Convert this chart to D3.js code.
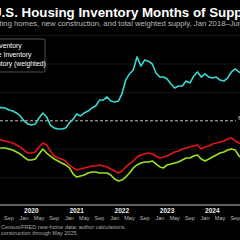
<!DOCTYPE html>
<html>
<head>
<meta charset="utf-8">
<script src="https://cdn.jsdelivr.net/npm/d3@7"></script>
<style>
  body { margin: 0; background: #000; }
  svg { display: block; font-family: "Liberation Sans", Arial, sans-serif; }
</style>
</head>
<body>
<div id="chart"></div>
<script>
// Months of supply, Jan 2018 - Jun 2025
const startMonth = new Date(2018, 0, 1);
const endMonth = new Date(2025, 5, 1);

const seriesNames = ["Existing Inventory", "New Home Inventory", "Total Inventory (weighted)"];
const seriesColors = ["#9be21e", "#3cd6d2", "#e3141c"];

const existing = [
  3.4, 3.4, 3.3, 3.4, 3.6, 3.8, 3.9, 4.0, 4.0, 4.1, 4.2, 4.1, 4.0, 3.9, 4.0, 4.1, 4.2,
  4.08, 4.08, 4.08, 4.01, 3.94, 3.8, 3.66, 3.45, 3.24, 3.24, 3.31, 3.66, 4.01, 3.73, 3.52, 3.31,
  3.17, 3.03, 2.89, 2.68, 2.25, 2.04, 2.11, 2.18, 2.32, 2.39, 2.39, 2.32, 2.32, 2.32, 2.18, 1.9,
  1.76, 1.83, 2.04, 2.32, 2.68, 2.89, 3.03, 3.1, 3.1, 3.17, 2.96, 2.75, 2.68, 2.89, 2.96, 3.03,
  3.1, 3.24, 3.38, 3.38, 3.52, 3.59, 3.31, 3.17, 3.31, 3.45, 3.59, 3.73, 3.8, 3.94, 4.01, 3.94, 3.52,
  3.3, 3.2, 3.3, 3.5, 3.8, 4.0, 4.2, 4.3
];

const newHome = [
  5.6, 5.9, 5.6, 5.5, 5.6, 5.9, 6.2, 6.4, 6.6, 7.2, 7.4, 6.8, 6.5, 6.2, 6.4, 6.6, 6.8,
  6.9, 6.94, 6.9, 6.76, 6.69, 6.55, 6.34, 5.99, 5.77, 5.7, 5.77, 6.2, 6.55, 6.27, 5.7, 5.49,
  5.42, 5.42, 5.49, 5.85, 6.13, 6.48, 6.34, 6.55, 6.69, 6.9, 7.04, 7.46, 7.46, 7.68, 7.39, 7.32,
  7.39, 7.89, 8.87, 9.3, 9.58, 10.5, 9.86, 10.28, 10.2, 10.0, 9.37, 9.08, 9.08, 8.94, 8.59, 8.31,
  8.45, 8.45, 8.8, 8.66, 9.15, 9.44, 9.08, 9.3, 9.08, 9.01, 9.08, 8.87, 8.8, 9.01, 9.44, 9.65, 9.44,
  9.3, 8.9, 9.0, 9.2, 9.0, 9.5, 9.8, 9.8
];

const totalWeighted = [
  4.0, 4.0, 3.9, 4.0, 4.1, 4.3, 4.4, 4.5, 4.5, 4.6, 4.7, 4.6, 4.5, 4.4, 4.5, 4.6, 4.7,
  4.65, 4.65, 4.58, 4.51, 4.44, 4.3, 4.15, 3.94, 3.73, 3.73, 3.8, 4.15, 4.44, 4.3, 3.87, 3.52,
  3.38, 3.31, 3.17, 2.89, 2.68, 2.54, 2.61, 2.68, 2.75, 2.82, 2.82, 2.89, 2.82, 2.75, 2.61, 2.46,
  2.32, 2.46, 2.75, 2.96, 3.17, 3.45, 3.59, 3.66, 3.73, 3.66, 3.52, 3.38, 3.45, 3.52, 3.66, 3.8,
  3.87, 4.01, 4.08, 4.15, 4.23, 4.3, 4.01, 4.15, 4.23, 4.37, 4.44, 4.51, 4.58, 4.72, 4.79, 4.58, 4.44,
  4.3, 4.2, 4.1, 4.3, 4.6, 4.7, 4.8, 4.9
];

const gridValues = [2, 4, 8, 10, 12];
const balancedLevel = 6;

const titleText = "U.S. Housing Inventory Months of Supply";
const subtitleText = "Existing homes, new construction, and total weighted supply, Jan 2018\u2013Jun 2025";
const sourceLines = ["Census/FRED new-home data; author calculations.", "construction through May 2025."];

const width = 240;
const height = 240;

const months = d3.timeMonth.range(startMonth, d3.timeMonth.offset(endMonth, 1));
const allSeries = [existing, newHome, totalWeighted];

const svg = d3.select("#chart")
    .append("svg")
    .attr("width", width)
    .attr("height", height)
    .style("background", "#000");

// the plot runs wider than the window, so only the middle shows
const x = d3.scaleTime()
    .domain([startMonth, endMonth])
    .range([-66.4, 269.1]);

const y = d3.scaleLinear()
    .domain([0, 12])
    .range([206, 35.6]);

// grid
svg.append("g")
    .selectAll("line")
    .data(gridValues)
    .enter()
    .append("line")
    .attr("x1", -70)
    .attr("x2", width + 30)
    .attr("y1", d => y(d))
    .attr("y2", d => y(d))
    .style("stroke", "#232323")
    .style("stroke-width", 0.6);

// balanced market line
svg.append("line")
    .attr("x1", -70)
    .attr("x2", 236)
    .attr("y1", y(balancedLevel))
    .attr("y2", y(balancedLevel))
    .style("stroke", "#d8d8d8")
    .style("stroke-width", 0.9)
    .style("stroke-dasharray", "3,2");

svg.append("text")
    .attr("x", 238)
    .attr("y", y(balancedLevel) - 1)
    .text("6 mo balanced")
    .style("font-size", "6px")
    .style("fill", "#ddd");

// lines
const line = d3.line()
    .x((d, i) => x(months[i]))
    .y(d => y(d));

svg.append("g")
    .selectAll("path")
    .data(allSeries)
    .enter()
    .append("path")
    .attr("d", d => line(d))
    .style("fill", "none")
    .style("stroke", (d, i) => seriesColors[i])
    .style("stroke-width", 1.6)
    .style("stroke-linejoin", "round");

// x axis
svg.append("line")
    .attr("x1", -70)
    .attr("x2", width + 30)
    .attr("y1", 205)
    .attr("y2", 205)
    .style("stroke", "#bdbdbd")
    .style("stroke-width", 1);

const monthTicks = d3.timeMonth.every(4).range(startMonth, d3.timeMonth.offset(endMonth, 1));
svg.append("g")
    .selectAll("text")
    .data(monthTicks)
    .enter()
    .append("text")
    .attr("x", d => x(d))
    .attr("y", 220)
    .attr("text-anchor", "middle")
    .text(d => d3.timeFormat("%b")(d))
    .style("font-size", "5.5px")
    .style("fill", "#bbb");

const yearTicks = d3.timeYear.range(startMonth, endMonth);
svg.append("g")
    .selectAll("text")
    .data(yearTicks)
    .enter()
    .append("text")
    .attr("x", d => x(d))
    .attr("y", 213)
    .text(d => d3.timeFormat("%Y")(d))
    .style("font-size", "6.5px")
    .style("font-weight", "bold")
    .style("fill", "#eee");

// title block
svg.append("text")
    .attr("x", -8)
    .attr("y", 17)
    .text(titleText)
    .style("font-size", "13.3px")
    .style("font-weight", "bold")
    .style("fill", "#fff");

svg.append("text")
    .attr("x", -15)
    .attr("y", 26)
    .text(subtitleText)
    .style("font-size", "7.7px")
    .style("fill", "#bbb");

// legend
const legend = svg.append("g");
legend.append("rect")
    .attr("x", -60)
    .attr("y", 39)
    .attr("width", 105)
    .attr("height", 33)
    .attr("rx", 1)
    .style("fill", "#000")
    .style("stroke", "#666")
    .style("stroke-width", 0.8);

legend.selectAll("line")
    .data(seriesNames)
    .enter()
    .append("line")
    .attr("x1", -50)
    .attr("x2", -38)
    .attr("y1", (d, i) => 46 + i * 9)
    .attr("y2", (d, i) => 46 + i * 9)
    .style("stroke", (d, i) => seriesColors[i])
    .style("stroke-width", 1.6);

legend.selectAll("text")
    .data(seriesNames)
    .enter()
    .append("text")
    .attr("x", -32)
    .attr("y", (d, i) => 48 + i * 9)
    .text(d => d)
    .style("font-size", "6.8px")
    .style("fill", "#fff");

// source note
svg.append("g")
    .selectAll("text")
    .data(sourceLines)
    .enter()
    .append("text")
    .attr("x", 1)
    .attr("y", (d, i) => 229 + i * 6)
    .text(d => d)
    .style("font-size", "5.5px")
    .style("fill", "#aaa");
</script>
</body>
</html>
